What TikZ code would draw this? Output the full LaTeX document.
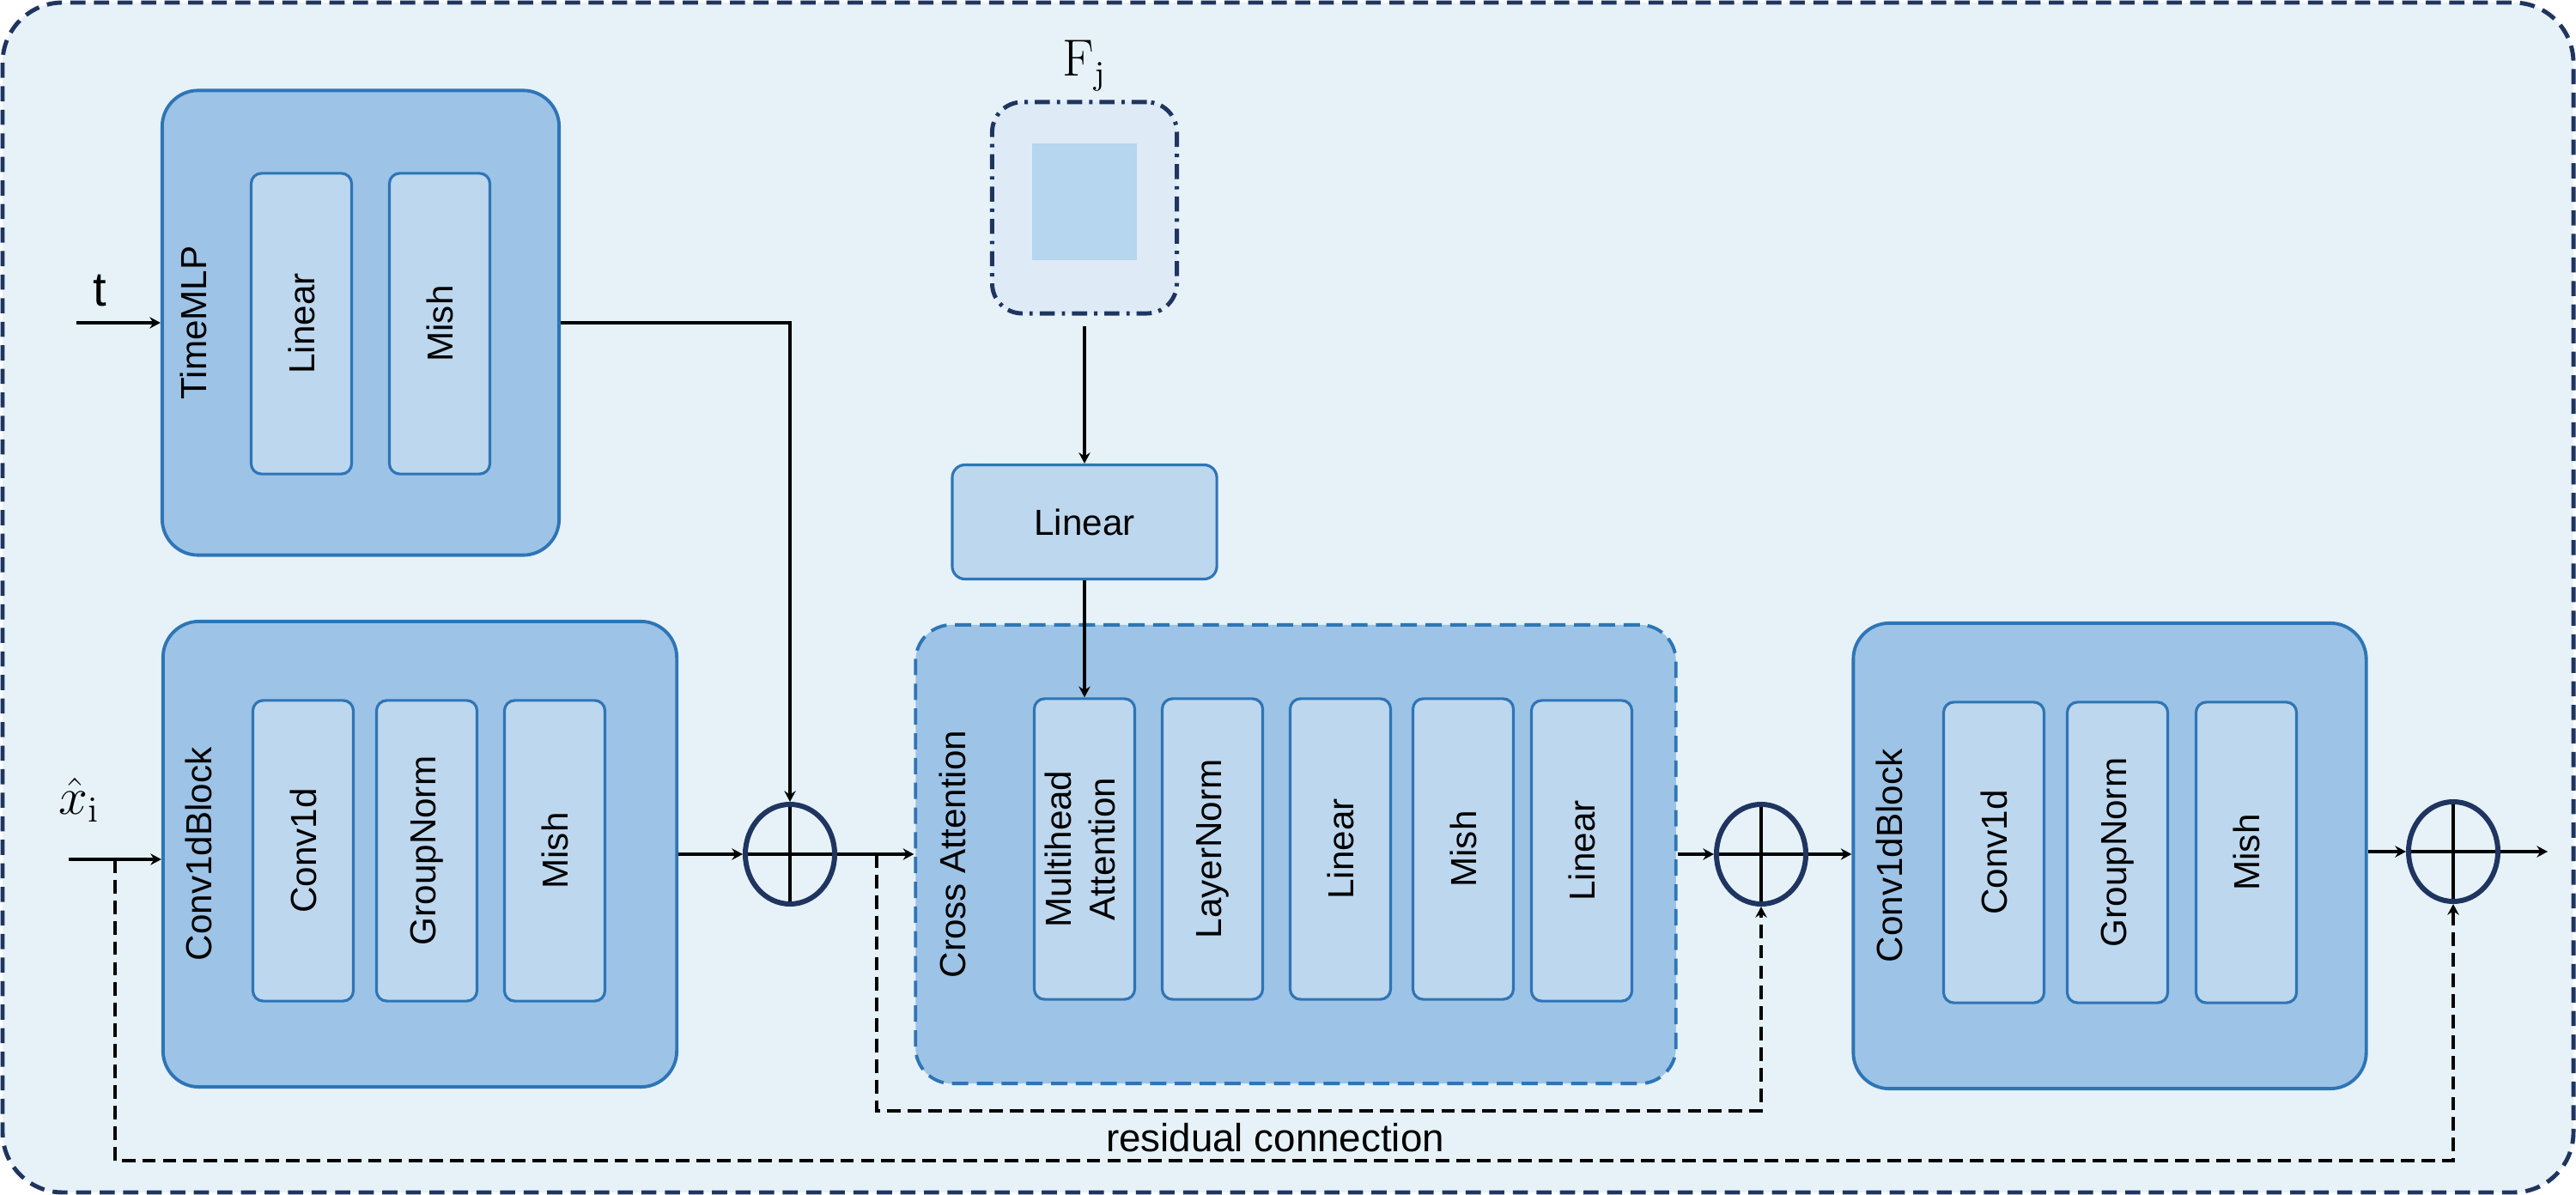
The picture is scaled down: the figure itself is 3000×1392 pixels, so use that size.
\documentclass[tikz,border=0pt]{standalone}
\usepackage{graphicx}
\usepackage[no-math]{fontspec}
\setmainfont{Liberation Sans}
\usetikzlibrary{shapes.geometric,arrows.meta}
\definecolor{bgfill}{HTML}{E6F2F8}
\definecolor{blockfill}{HTML}{9DC3E6}
\definecolor{layerfill}{HTML}{BDD7EE}
\definecolor{lineblue}{HTML}{2E75B6}
\definecolor{navy}{HTML}{1F3560}
\definecolor{fjfill}{HTML}{DEEBF7}
\definecolor{fjmapfill}{HTML}{B6D5EE}
\def\vtext#1{\rotatebox{90}{#1}}
\tikzset{
  frame/.style={draw=navy, fill=bgfill, line width=1.4pt, rounded corners=0.7cm,
    dash pattern=on 5pt off 2.8pt},
  block/.style={draw=lineblue, fill=blockfill, line width=1.1pt, rounded corners=0.42cm,
    inner sep=0pt},
  attblock/.style={block, dash pattern=on 5.4pt off 2.8pt},
  layer/.style={draw=lineblue, fill=layerfill, line width=0.9pt, rounded corners=0.12cm,
    minimum width=1.17cm, minimum height=3.5cm, inner sep=0pt,
    font=\fontsize{12}{14.5}\selectfont},
  blocklabel/.style={rotate=90, inner sep=0pt, font=\fontsize{12}{14.5}\selectfont},
  fjbox/.style={draw=navy, fill=fjfill, line width=1.4pt, rounded corners=0.35cm,
    dash pattern=on 5pt off 2.3pt on 1.1pt off 2.3pt, minimum width=2.15cm,
    minimum height=2.46cm, inner sep=0pt},
  sumnode/.style={ellipse, draw=navy, fill=bgfill, line width=1.7pt, minimum width=1.04cm,
    minimum height=1.16cm, inner sep=0pt,
    path picture={\draw[black, line width=1.1pt]
      (path picture bounding box.north) -- (path picture bounding box.south)
      (path picture bounding box.west) -- (path picture bounding box.east);}},
  flow/.style={-{Stealth[length=3.6pt,width=3.8pt,inset=1.2pt]}, line width=1.1pt},
  resid/.style={flow, dash pattern=on 4.5pt off 2.3pt},
}

\begin{document}
\begin{tikzpicture}[x=0.01cm,y=-0.01cm]
  \useasboundingbox (0,0) rectangle (3000,1392);
  \draw[frame] (3,3) rectangle (2997,1389);

  % time embedding
  \node[block, minimum width=4.62cm, minimum height=5.41cm] (mlp) at (420,376) {};
  \node[blocklabel] (mlpname) at ([xshift=0.38cm]mlp.west) {TimeMLP};
  \node[layer] (mlplin) at (351,377) {\vtext{Linear}};
  \node[layer] (mlpmish) at (512,377) {\vtext{Mish}};
  \node[font=\fontsize{16}{18}\selectfont, inner sep=0pt] (tname) at (116,339) {t};
  \coordinate (tin) at (89,376);

  % first conv block
  \node[block, minimum width=5.98cm, minimum height=5.42cm] (convA) at (489,995) {};
  \node[blocklabel] (convAname) at ([xshift=0.43cm]convA.west) {Conv1dBlock};
  \node[layer] (convA1) at (353,991) {\vtext{Conv1d}};
  \node[layer] (convA2) at (497,991) {\vtext{GroupNorm}};
  \node[layer] (convA3) at (646,991) {\vtext{Mish}};
  \node[inner sep=0pt, font=\fontsize{17}{19}\selectfont] (xname) at (92,932) {$\hat{x}_{\mathrm{i}}$};
  \coordinate (xin) at (80,1001);
  \coordinate (xsplit) at (134,1001);
  \coordinate (xbend) at (134,1352);

  \node[sumnode] (sum1) at (920,995) {};

  % condition branch
  \node[fjbox] (fj) at (1263,242) {};
  \node[fill=fjmapfill, minimum width=1.22cm, minimum height=1.36cm, inner sep=0pt] (fjmap) at (1263,235) {};
  \node[inner sep=0pt, font=\fontsize{16}{18}\selectfont] (fjname) at ([yshift=0.4cm]fj.north) {$\mathrm{F}_{\mathrm{j}}$};
  \node[layer, minimum width=3.08cm, minimum height=1.33cm, rounded corners=0.15cm] (lin) at (1263,608) {Linear};

  % cross attention
  \node[attblock, minimum width=8.85cm, minimum height=5.34cm] (xatt) at (1509,995) {};
  \node[blocklabel] (xattname) at ([xshift=0.45cm]xatt.west) {Cross Attention};
  \node[layer] (mha) at (1263,989) {\vtext{\begin{tabular}{@{}c@{}}Multihead\\Attention\end{tabular}}};
  \node[layer] (ln) at (1412,989) {\vtext{LayerNorm}};
  \node[layer] (lin1) at (1561,989) {\vtext{Linear}};
  \node[layer] (mish) at (1704,989) {\vtext{Mish}};
  \node[layer] (lin2) at (1842,991) {\vtext{Linear}};
  \coordinate (rsplit) at (1021,995);
  \coordinate (rbend) at (1021,1294);

  \node[sumnode] (sum2) at (2051,995) {};

  % second conv block
  \node[block, minimum width=5.97cm, minimum height=5.42cm] (convB) at (2457,997) {};
  \node[blocklabel] (convBname) at ([xshift=0.44cm]convB.west) {Conv1dBlock};
  \node[layer] (convB1) at (2322,993) {\vtext{Conv1d}};
  \node[layer] (convB2) at (2466,993) {\vtext{GroupNorm}};
  \node[layer] (convB3) at (2616,993) {\vtext{Mish}};

  \node[sumnode] (sum3) at (2857,992) {};
  \coordinate (out) at (2967,992);

  % connections
  \draw[flow] (tin) -- (mlp.west);
  \draw[flow] (mlp.east) -| (sum1.north);
  \draw[flow] (xin) -- (xin -| convA.west);
  \draw[flow] (convA.east |- sum1.west) -- (sum1.west);
  \draw[flow] (sum1.east) -- (xatt.west |- sum1.east);
  \draw[flow, shorten <=0.12cm] (fj.south) -- (lin.north);
  \draw[flow] (lin.south) -- (mha.north);
  \draw[flow] (xatt.east |- sum2.west) -- (sum2.west);
  \draw[flow] (sum2.east) -- (convB.west |- sum2.east);
  \draw[flow] (convB.east |- sum3.west) -- (sum3.west);
  \draw[flow] (sum3.east) -- (out);

  % residual paths
  \draw[resid] (rsplit) -- (rbend) -| (sum2.south);
  \draw[resid] (xsplit) -- (xbend) -| (sum3.south);
  \node[inner sep=0pt, font=\fontsize{13}{15}\selectfont] (resname) at (1485,1325) {residual connection};
\end{tikzpicture}
\end{document}
